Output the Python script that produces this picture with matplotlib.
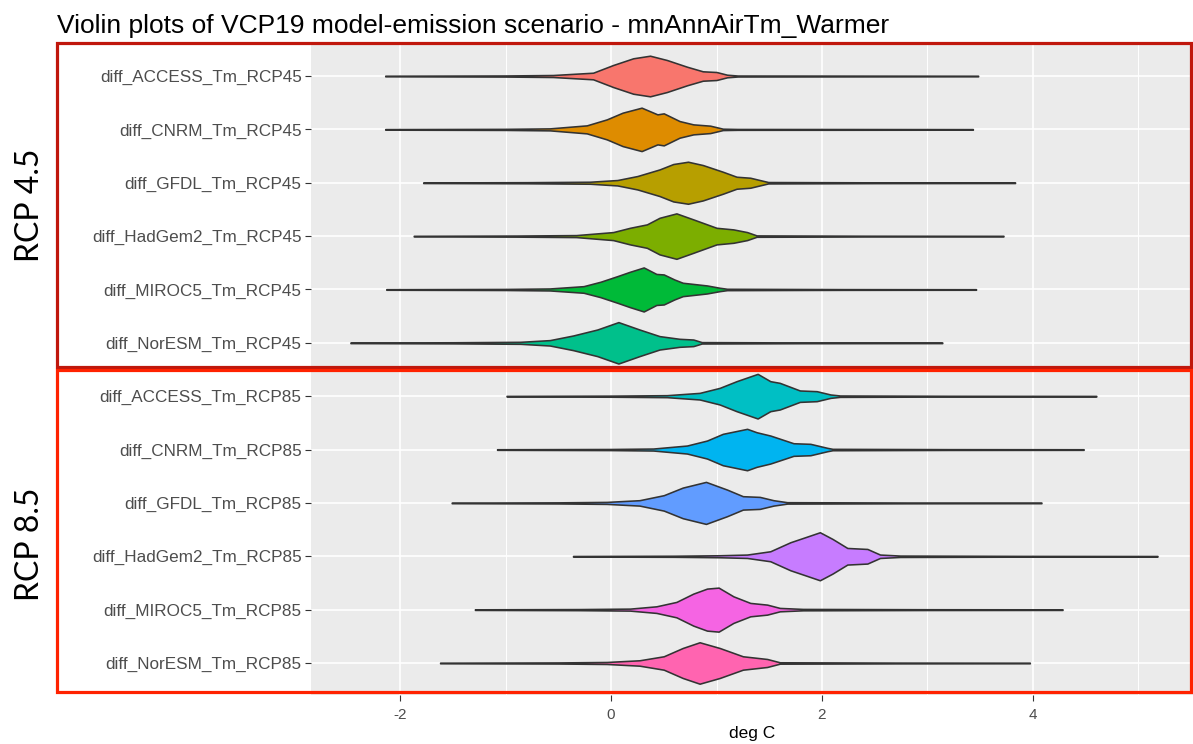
import numpy as np
import matplotlib.pyplot as plt
from matplotlib.patches import Rectangle
from matplotlib.ticker import MultipleLocator

# model / scenario names, top to bottom
labels = ['diff_ACCESS_Tm_RCP45', 'diff_CNRM_Tm_RCP45', 'diff_GFDL_Tm_RCP45',
          'diff_HadGem2_Tm_RCP45', 'diff_MIROC5_Tm_RCP45', 'diff_NorESM_Tm_RCP45',
          'diff_ACCESS_Tm_RCP85', 'diff_CNRM_Tm_RCP85', 'diff_GFDL_Tm_RCP85',
          'diff_HadGem2_Tm_RCP85', 'diff_MIROC5_Tm_RCP85', 'diff_NorESM_Tm_RCP85']

colors = ['#F8766D', '#DE8C00', '#B79F00', '#7CAE00', '#00BA38', '#00C08B',
          '#00BFC4', '#00B4F0', '#619CFF', '#C77CFF', '#F564E3', '#FF64B0']

# density profiles (x in deg C, relative density)
access45_x = [-2.14, -1.0, -0.55, -0.17, 0.02, 0.21, 0.37, 0.53, 0.72, 0.87, 1.0, 1.1, 1.2, 2.3, 3.48]
access45_d = [0.3, 0.55, 1.0, 3.3, 11, 17.7, 20.3, 16, 9.3, 4.7, 4.0, 1.3, 0.5, 0.4, 0.3]

cnrm45_x = [-2.14, -1.0, -0.58, -0.23, -0.04, 0.11, 0.29, 0.44, 0.50, 0.65, 0.78, 0.94, 1.06, 1.2, 2.3, 3.43]
cnrm45_d = [0.3, 0.55, 1.0, 4, 10, 16.7, 21.7, 15, 16, 8.3, 5, 3.7, 0.7, 0.45, 0.4, 0.3]

gfdl45_x = [-1.78, -0.8, -0.2, 0.06, 0.25, 0.46, 0.59, 0.73, 0.87, 1.06, 1.19, 1.32, 1.41, 1.49, 2.5, 3.83]
gfdl45_d = [0.3, 0.55, 1.0, 2.7, 6.7, 13.3, 18.7, 21, 17.7, 11, 6, 5, 2.7, 0.7, 0.4, 0.3]

hadgem45_x = [-1.87, -0.9, -0.33, 0.02, 0.18, 0.34, 0.46, 0.62, 0.78, 1.0, 1.16, 1.29, 1.38, 2.4, 3.72]
hadgem45_d = [0.3, 0.55, 1.0, 4, 8.3, 11.7, 18.3, 22.7, 16.7, 8.3, 6.7, 4, 0.7, 0.4, 0.3]

miroc45_x = [-2.13, -1.0, -0.58, -0.26, -0.1, 0.06, 0.18, 0.31, 0.43, 0.5, 0.6, 0.68, 0.91, 1.03, 1.1, 2.2, 3.46]
miroc45_d = [0.3, 0.55, 1.0, 3.3, 7.7, 13.3, 17.7, 22, 15.5, 15, 10, 6.7, 4, 1.7, 0.7, 0.4, 0.3]

noresm45_x = [-2.47, -1.5, -0.86, -0.58, -0.36, -0.13, 0.07, 0.27, 0.46, 0.65, 0.78, 0.86, 1.8, 3.14]
noresm45_d = [0.3, 0.55, 1.0, 2.7, 7.3, 13.3, 20.7, 13.3, 6.7, 4, 3.3, 0.7, 0.4, 0.3]

access85_x = [-0.99, 0.0, 0.53, 0.84, 1.03, 1.19, 1.39, 1.51, 1.6, 1.79, 1.95, 2.08, 2.17, 3.2, 4.6]
access85_d = [0.3, 0.55, 1.0, 3.3, 8.3, 15, 22.3, 15, 13.3, 5.7, 5, 1.7, 0.7, 0.4, 0.3]

cnrm85_x = [-1.08, 0.0, 0.4, 0.72, 0.91, 1.06, 1.29, 1.38, 1.51, 1.73, 1.89, 2.05, 2.1, 3.2, 4.48]
cnrm85_d = [0.3, 0.55, 1.0, 4, 9, 15.7, 20.7, 17.3, 14, 6.3, 5.7, 1.7, 0.7, 0.4, 0.3]

gfdl85_x = [-1.51, -0.5, -0.04, 0.27, 0.5, 0.68, 0.9, 1.1, 1.25, 1.41, 1.54, 1.67, 2.8, 4.08]
gfdl85_d = [0.3, 0.55, 1.0, 2.7, 7.7, 15.3, 21, 13.3, 6.7, 6, 2.7, 0.7, 0.4, 0.3]

hadgem85_x = [-0.36, 0.6, 1.03, 1.29, 1.51, 1.7, 1.86, 1.98, 2.1, 2.24, 2.43, 2.55, 2.74, 3.9, 5.18]
hadgem85_d = [0.3, 0.55, 1.0, 1.7, 5, 14, 19.7, 24, 17.3, 8.3, 7.3, 1.7, 0.7, 0.4, 0.3]

miroc85_x = [-1.29, -0.3, 0.18, 0.43, 0.62, 0.78, 0.91, 1.02, 1.16, 1.32, 1.48, 1.6, 1.82, 3.0, 4.28]
miroc85_d = [0.3, 0.55, 1.0, 3.3, 7.7, 16, 21, 22, 13.3, 6.7, 5, 1.7, 0.7, 0.4, 0.3]

noresm85_x = [-1.62, -0.5, -0.04, 0.27, 0.5, 0.68, 0.84, 1.03, 1.25, 1.48, 1.6, 2.7, 3.97]
noresm85_d = [0.3, 0.55, 1.0, 2.7, 6.7, 15, 20.7, 15, 6.7, 4, 0.7, 0.4, 0.3]

profiles_x = [access45_x, cnrm45_x, gfdl45_x, hadgem45_x, miroc45_x, noresm45_x,
              access85_x, cnrm85_x, gfdl85_x, hadgem85_x, miroc85_x, noresm85_x]
profiles_d = [access45_d, cnrm45_d, gfdl45_d, hadgem45_d, miroc45_d, noresm45_d,
              access85_d, cnrm85_d, gfdl85_d, hadgem85_d, miroc85_d, noresm85_d]

plt.rcParams['font.family'] = ['Liberation Sans', 'DejaVu Sans']
plt.rcParams['axes.unicode_minus'] = False

fig = plt.figure(figsize=(11.93, 7.44), dpi=100)
ax = fig.add_axes([311 / 1193, 1 - 695 / 744, (1193 - 311) / 1193, 651 / 744])
ax.set_facecolor('#EBEBEB')

# precomputed stats for matplotlib's violin drawer
vpstats = []
for xs, ds in zip(profiles_x, profiles_d):
    vpstats.append({'coords': np.array(xs), 'vals': np.array(ds),
                    'mean': np.mean(xs), 'median': np.median(xs),
                    'min': xs[0], 'max': xs[-1]})

gmax = max(max(d) for d in profiles_d)
widths = [0.9 * max(d) / gmax for d in profiles_d]
pos = np.arange(len(labels))

parts = ax.violin(vpstats, positions=pos, orientation='horizontal', widths=widths,
                  showmeans=False, showextrema=False, showmedians=False)
for body, c in zip(parts['bodies'], colors):
    body.set_facecolor(c)
    body.set_edgecolor('#333333')
    body.set_linewidth(1.15)
    body.set_joinstyle('round')
    body.set_alpha(1)
    body.set_zorder(3)

ax.set_xlim(-2.844, 5.517)
ax.set_ylim(len(labels) - 0.4, -0.6)
ax.set_yticks(pos)
ax.set_yticklabels(labels)
ax.xaxis.set_major_locator(MultipleLocator(2))
ax.xaxis.set_minor_locator(MultipleLocator(1))
ax.grid(which='major', color='white', linewidth=1.2, zorder=0)
ax.grid(which='minor', axis='x', color='white', linewidth=0.7, zorder=0)
ax.set_axisbelow(True)
for s in ax.spines.values():
    s.set_visible(False)
ax.tick_params(axis='both', which='major', length=4.3, width=0.8, color='#333333',
               labelcolor='#4D4D4D')
ax.tick_params(axis='y', labelsize=12.3, pad=2.5)
ax.tick_params(axis='x', labelsize=11, pad=5)
ax.tick_params(which='minor', length=0)
ax.set_xlabel('deg C', fontsize=12.5, color='black', labelpad=3)

fig.text(57 / 1193, 1 - 32.5 / 744, 'Violin plots of VCP19 model-emission scenario - mnAnnAirTm_Warmer',
         fontsize=19, va='baseline', ha='left')

# scenario boxes and labels
fig.add_artist(Rectangle((57 / 1193, 1 - 367 / 744), 1134 / 1193, 324 / 744,
                         transform=fig.transFigure, fill=False, edgecolor='#C0170C', linewidth=2.3))
fig.add_artist(Rectangle((57 / 1193, 1 - 692 / 744), 1134 / 1193, 322 / 744,
                         transform=fig.transFigure, fill=False, edgecolor='#FF2200', linewidth=2.3))
fig.text(30 / 1193, 1 - 205 / 744, 'RCP 4.5', rotation=90, fontsize=23, family=['Lato', 'DejaVu Sans'],
         ha='center', va='center')
fig.text(30 / 1193, 1 - 544 / 744, 'RCP 8.5', rotation=90, fontsize=23, family=['Lato', 'DejaVu Sans'],
         ha='center', va='center')

fig.savefig('out.png', dpi=100)
